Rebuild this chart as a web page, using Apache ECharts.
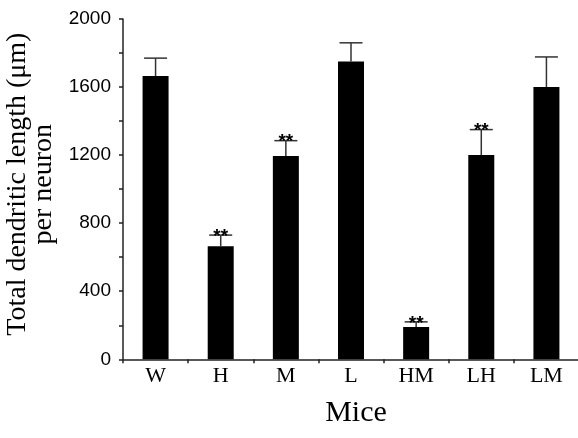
<!DOCTYPE html>
<html>
<head>
<meta charset="utf-8">
<script src="https://cdn.jsdelivr.net/npm/echarts@6/dist/echarts.min.js"></script>
<style>
  html, body { margin: 0; padding: 0; background: #fff; }
  #chart { width: 578px; height: 438px; }
</style>
</head>
<body>
<div id="chart"></div>
<script>
const categories = ['W', 'H', 'M', 'L', 'HM', 'LH', 'LM'];
const means = [1665, 665, 1195, 1750, 190, 1200, 1600];
const errors = [105, 65, 90, 110, 30, 150, 177];
const signif = ['', '**', '**', '', '**', '**', ''];
const yTickLabels = [0, 400, 800, 1200, 1600, 2000];

const chart = echarts.init(document.getElementById('chart'), null, { renderer: 'canvas' });

const errData = categories.map((c, i) => [i, means[i], means[i] + errors[i]]);

const option = {
  backgroundColor: '#fff',
  animation: false,
  grid: { left: 123, top: 19, width: 456, bottom: 78.7, containLabel: false, outerBoundsMode: 'none' },
  xAxis: {
    type: 'category',
    data: categories,
    name: 'Mice',
    nameLocation: 'middle',
    nameGap: 39,
    nameTextStyle: { fontFamily: 'Liberation Serif', fontSize: 30, color: '#000', padding: [0, 0, 0, 10] },
    axisLine: { lineStyle: { color: '#222', width: 1.5 } },
    axisTick: { show: true, length: 4, lineStyle: { color: '#222', width: 1.5 } },
    axisLabel: { fontFamily: 'Liberation Serif', fontSize: 22, color: '#000', margin: 6 }
  },
  yAxis: {
    type: 'value',
    min: 0,
    max: 2000,
    interval: 200,
    name: 'Total dendritic length (μm)\nper neuron',
    nameLocation: 'middle',
    nameGap: 63,
    nameTextStyle: { fontFamily: 'Liberation Serif', fontSize: 28, lineHeight: 26, color: '#000', padding: [0, 0, 0, 10] },
    splitLine: { show: false },
    axisLine: { show: true, lineStyle: { color: '#222', width: 1.5 } },
    axisTick: { show: true, length: 4, lineStyle: { color: '#222', width: 1.5 } },
    axisLabel: {
      fontFamily: 'Liberation Sans', fontSize: 19, color: '#000', margin: 12,
      formatter: v => (yTickLabels.indexOf(v) >= 0 ? String(v) : '')
    }
  },
  series: [
    {
      type: 'bar',
      data: means,
      barWidth: 26,
      itemStyle: { color: '#000' },
      z: 2
    },
    {
      type: 'custom',
      data: errData,
      z: 3,
      renderItem: function (params, api) {
        const x = api.value(0);
        const base = api.coord([x, api.value(1)]);
        const top = api.coord([x, api.value(2)]);
        const half = 11.5;
        const children = [
          { type: 'line', shape: { x1: base[0], y1: base[1], x2: top[0], y2: top[1] }, style: { stroke: '#333', lineWidth: 1.5 } },
          { type: 'line', shape: { x1: top[0] - half, y1: top[1], x2: top[0] + half, y2: top[1] }, style: { stroke: '#333', lineWidth: 1.5 } }
        ];
        const s = signif[params.dataIndex];
        if (s) {
          children.push({
            type: 'text',
            style: {
              text: s,
              x: top[0], y: top[1] + 11,
              align: 'center', verticalAlign: 'bottom',
              font: 'bold 19px "Liberation Sans"', fill: '#000'
            }
          });
        }
        return { type: 'group', children: children };
      }
    }
  ]
};
chart.setOption(option);
</script>
</body>
</html>
